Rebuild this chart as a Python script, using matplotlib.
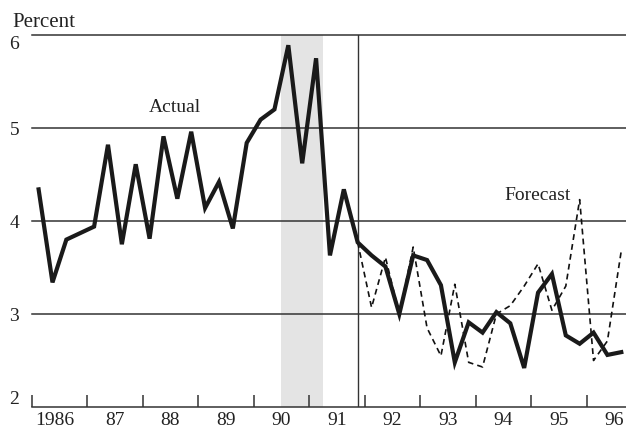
import matplotlib
matplotlib.use("Agg")
import matplotlib.pyplot as plt

# quarterly series, first quarter of 1986 onward
start_year = 1986
actual = [4.34, 3.34, 3.80, 3.87, 3.94, 4.82, 3.75, 4.61, 3.81, 4.91,
          4.24, 4.96, 4.14, 4.42, 3.92, 4.84, 5.09, 5.20, 5.89, 4.62,
          5.75, 3.63, 4.34, 3.77, 3.63, 3.51, 3.00, 3.63, 3.58, 3.31,
          2.48, 2.91, 2.80, 3.02, 2.90, 2.42, 3.23, 3.43, 2.77, 2.68,
          2.80, 2.56, 2.59]
# forecast starts at the 24th quarter (1991 Q4)
forecast_start = 23
forecast = [3.77, 3.07, 3.61, 3.00, 3.72, 2.85, 2.55, 3.32, 2.48, 2.43,
            3.00, 3.09, 3.30, 3.54, 3.04, 3.30, 4.23, 2.50, 2.71, 3.68]

years = list(range(1986, 1997))
year_labels = ["1986", "87", "88", "89", "90", "91", "92", "93", "94", "95", "96"]
y_ticks = [2, 3, 4, 5, 6]
recession = (1990.5, 1991.25)


def main():
    x_act = [start_year + 0.125 + 0.25 * i for i in range(len(actual))]
    x_fc = x_act[forecast_start:forecast_start + len(forecast)]

    fig = plt.figure(figsize=(6.26, 4.27), dpi=100)
    ax = fig.add_axes([0.0506, 0.0445, 0.9494, 0.8712])
    font = "Liberation Serif"
    dark = "#222222"

    ax.axvspan(recession[0], recession[1], color="#e4e4e4", lw=0, zorder=0)
    for y in y_ticks:
        ax.axhline(y, color="#333333", lw=1.1, zorder=1, clip_on=False)
    ax.axvline(x_fc[0], color="#333333", lw=1.0, zorder=1)

    ax.plot(x_fc, forecast, color="#111111", lw=1.2, dashes=[3.5, 2.5],
            zorder=2)
    ax.plot(x_act, actual, color="#1a1a1a", lw=3.0, solid_joinstyle="miter",
            zorder=3)

    ax.set_xlim(1986, 1996.71)
    ax.set_ylim(2, 6)
    for s in ax.spines.values():
        s.set_visible(False)

    ax.set_xticks(years)
    ax.set_xticklabels([])
    ax.tick_params(axis="x", which="major", direction="in", length=8.5,
                   width=1.1, color="#333333")
    ax.set_xticks([y + 0.5 if y > 1986 else y + 0.42 for y in years],
                  minor=True)
    ax.set_xticklabels(year_labels, minor=True, fontfamily=font,
                       fontsize=14, color=dark)
    ax.tick_params(axis="x", which="minor", length=0, pad=3)

    ax.set_yticks(y_ticks)
    ax.set_yticklabels([str(v) for v in y_ticks], fontfamily=font,
                       fontsize=14, color=dark)
    ax.tick_params(axis="y", length=0, pad=9)
    labels = ax.get_yticklabels()
    labels[0].set_va("bottom")
    labels[-1].set_va("top")

    ax.text(1988.58, 5.226, "Actual", fontfamily=font, fontsize=14,
            color=dark, ha="center", va="center")
    ax.text(1995.11, 4.29, "Forecast", fontfamily=font, fontsize=14,
            color=dark, ha="center", va="center")
    fig.text(12 / 626, 1 - 26.7 / 427, "Percent", fontfamily=font,
             fontsize=15, color=dark, ha="left", va="baseline")

    fig.savefig("out.png", dpi=100)


if __name__ == "__main__":
    main()
